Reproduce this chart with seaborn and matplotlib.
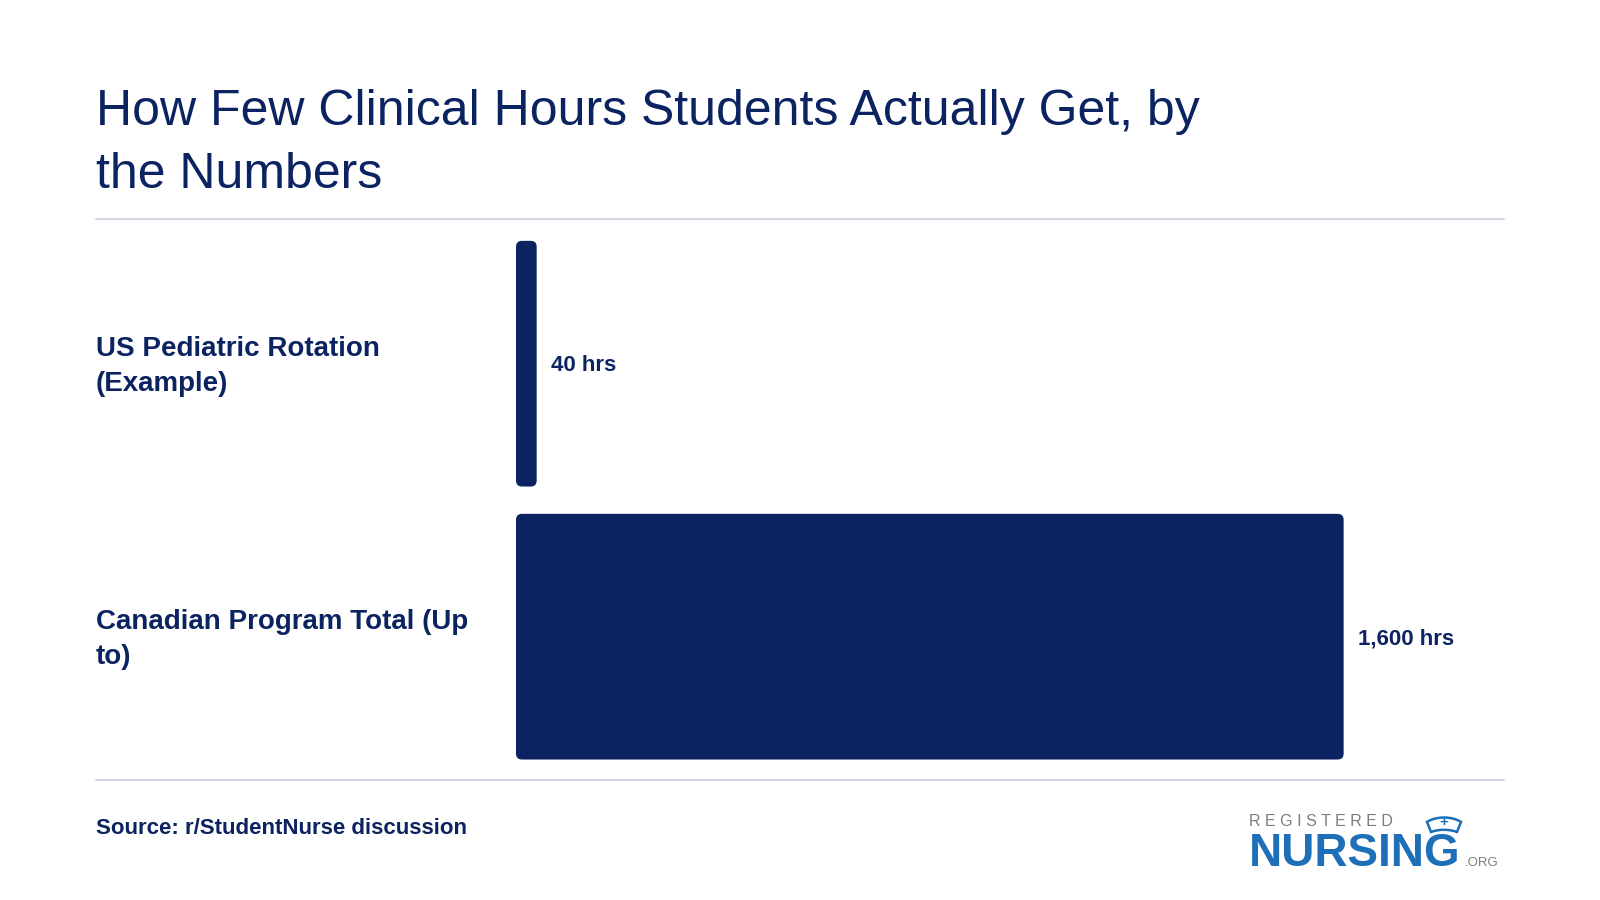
import matplotlib.pyplot as plt
import seaborn as sns
import pandas as pd
from matplotlib.patches import FancyBboxPatch, PathPatch
from matplotlib.path import Path
from matplotlib.lines import Line2D
from matplotlib.transforms import blended_transform_factory, offset_copy

categories = ['US Pediatric Rotation\n(Example)', 'Canadian Program Total (Up\nto)']
hours = [40, 1600]
value_labels = ['40 hrs', '1,600 hrs']

title_lines = ['How Few Clinical Hours Students Actually Get, by', 'the Numbers']
source = 'Source: r/StudentNurse discussion'

navy = '#0c2361'
rule = '#d3d6e3'
logo_blue = '#1d6fb8'
logo_gray = '#7d7d7d'

sns.set_style('white')
plt.rcParams['font.family'] = ['Liberation Sans', 'DejaVu Sans']

df = pd.DataFrame({'category': categories, 'hours': hours})

W, H = 1600, 900
fig = plt.figure(figsize=(16, 9), dpi=100)
ax = fig.add_axes([516 / W, 1 - 780 / H, 988 / W, 561 / H])

sns.barplot(data=df, x='hours', y='category', orient='h', color=navy,
            width=0.9, saturation=1, ax=ax)
ax.set_xlim(0, 1910)
ax.set_ylim(1.525, -0.53)

# swap plain rectangles for rounded ones
px_x = 1910 / 988
px_y = 2.055 / 561
for p in list(ax.patches):
    x0, y0 = p.get_x(), p.get_y()
    w, h = p.get_width(), p.get_height()
    p.set_visible(False)
    ax.add_patch(FancyBboxPatch((x0, y0), w, h,
                                boxstyle=f'round,pad=0,rounding_size={6 * px_x}',
                                mutation_aspect=px_y / px_x,
                                facecolor=navy, edgecolor='none'))

for i, (v, lab) in enumerate(zip(hours, value_labels)):
    ax.annotate(lab, (v, i), xytext=(10, -1.5), textcoords='offset points',
                va='center', ha='left', fontsize=16, fontweight='bold', color=navy)

ax.set_xticks([])
ax.set_yticks([])
ax.set_xlabel('')
ax.set_ylabel('')
for s in ax.spines.values():
    s.set_visible(False)

trans = blended_transform_factory(fig.transFigure, ax.transData)
trans = offset_copy(trans, fig=fig, x=0, y=-3, units='dots')
for i, cat in enumerate(categories):
    fig.text(96 / W, i, cat, transform=trans, ha='left', va='center',
             fontsize=20, fontweight='bold', color=navy, linespacing=1.45)

# title
fig.text(96 / W, 1 - 125 / H, title_lines[0], fontsize=36, color=navy, va='baseline')
fig.text(96 / W, 1 - 188 / H, title_lines[1], fontsize=36, color=navy, va='baseline')

# rules
for yy in (219, 780):
    fig.add_artist(Line2D([96 / W, 1504 / W], [1 - yy / H] * 2,
                          transform=fig.transFigure, color=rule, lw=1.5))

fig.text(96 / W, 1 - 834 / H, source, fontsize=16, fontweight='bold',
         color=navy, va='baseline')

# logo
fig.text(1249 / W, 1 - 826 / H, 'R E G I S T E R E D', fontsize=11.5,
         color=logo_gray, va='baseline')
fig.text(1249 / W, 1 - 866 / H, 'NURSING', fontsize=33, fontweight='bold',
         color=logo_blue, va='baseline')
fig.text(1465 / W, 1 - 866 / H, '.ORG', fontsize=9.5, color=logo_gray, va='baseline')


def fpt(x, y):
    return (x / W, 1 - y / H)


cap_verts = [fpt(1431, 832), fpt(1427, 822),
             fpt(1436, 816), fpt(1452, 816), fpt(1461, 822),
             fpt(1457, 832),
             fpt(1449, 829), fpt(1439, 829), fpt(1431, 832),
             fpt(1431, 832)]
cap_codes = [Path.MOVETO, Path.LINETO,
             Path.CURVE4, Path.CURVE4, Path.CURVE4,
             Path.LINETO,
             Path.CURVE4, Path.CURVE4, Path.CURVE4,
             Path.CLOSEPOLY]
fig.add_artist(PathPatch(Path(cap_verts, cap_codes), transform=fig.transFigure,
                         facecolor='white', edgecolor=logo_blue, lw=1.8))
fig.text(1444 / W, 1 - 822 / H, '+', fontsize=11, fontweight='bold', color=logo_blue,
         ha='center', va='center')

fig.savefig('out.png', dpi=100, facecolor='white')
